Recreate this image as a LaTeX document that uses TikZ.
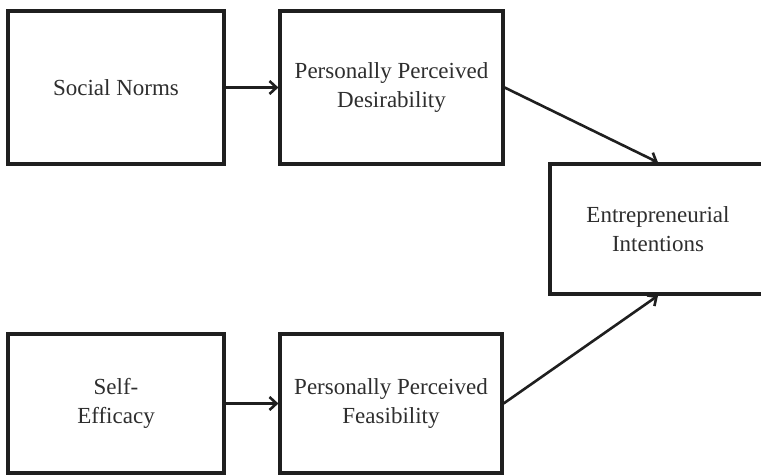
\documentclass[tikz,border=0pt]{standalone}
\usepackage{fontspec}
\setmainfont{Liberation Serif}
\usepackage{tikz}
\usetikzlibrary{arrows.meta}

\begin{document}
\begin{tikzpicture}[x=1pt, y=-1pt,
		box/.style={draw=black!88, line width=3.2pt, fill=white, inner sep=0pt,
			align=center, text=black!82, font=\fontsize{23}{29}\selectfont},
		link/.style={line width=2.6pt, draw=black!88, -{Straight Barb[length=7pt,width=13pt,line width=2.6pt]}}]
			%%%%% START %%%%%
			
			\useasboundingbox (0, 0) rectangle (761, 475);
			
			\node[box, minimum width=216pt, minimum height=153pt] (social) at (116, 87.5) {Social Norms};
			\node[box, minimum width=223pt, minimum height=153pt] (desire) at (391.5, 87.5) {Personally Perceived\\Desirability};
			
			\node[box, minimum width=216pt, minimum height=139pt] (selfeff) at (116, 403.5) {Self-\\Efficacy};
			\node[box, minimum width=222pt, minimum height=139pt] (feas) at (391, 403.5) {Personally Perceived\\Feasibility};
			
			\node[box, minimum width=216pt, minimum height=130pt] (intent) at (658, 229) {Entrepreneurial\\Intentions};
			
			\draw[link] (social.east) -- (desire.west);
			\draw[link] (selfeff.east) -- (feas.west);
			\draw[link] (desire.east) -- (intent.north);
			\draw[link] (feas.east) -- (intent.south);
			
			%%%%% END %%%%%
		\end{tikzpicture}
\end{document}
